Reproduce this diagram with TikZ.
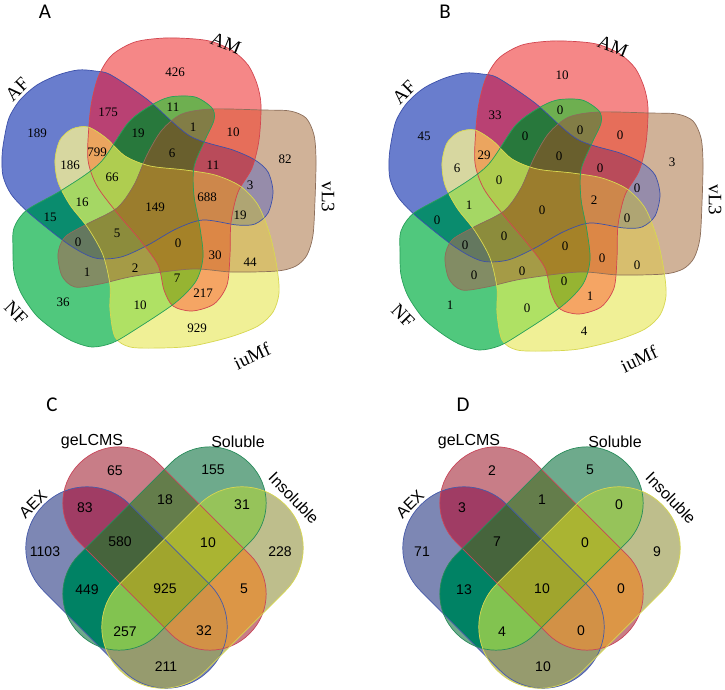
\documentclass[tikz,border=0pt]{standalone}
\usepackage{fontspec}
\newfontfamily\fserif{Liberation Serif}
\newfontfamily\fsans{Liberation Sans}
\newfontfamily\fpanel{Carlito}
\tikzset{
  n5/.style={font=\fserif\fontsize{13}{15}\selectfont, inner sep=0pt},
  l5/.style={font=\fserif\fontsize{19}{21}\selectfont, inner sep=0pt},
  n4/.style={font=\fsans\fontsize{14}{16}\selectfont, inner sep=0pt},
  l4/.style={font=\fsans\fontsize{16}{18}\selectfont, inner sep=0pt},
  plab/.style={font=\fpanel\fontsize{21}{24}\selectfont, inner sep=0pt},
  edge5/.style={line width=0.7pt},
  edge4/.style={line width=0.7pt},
}
\definecolor{eb}{RGB}{60,80,170}
\definecolor{er}{RGB}{210,70,80}
\definecolor{et}{RGB}{140,110,90}
\definecolor{ey}{RGB}{215,215,80}
\definecolor{eg}{RGB}{40,160,90}
\definecolor{eA}{RGB}{70,90,170}
\definecolor{eG}{RGB}{200,70,90}
\definecolor{eS}{RGB}{40,140,90}
\definecolor{eI}{RGB}{215,215,80}
% five-set shapes (pixel coordinates of panel A)
\def\shB{plot[smooth cycle] coordinates {(2,157) (4,140) (9,118) (20,100) (37,85) (58,75) (78,70) (95,71) (111,75) (148,100) (190,136) (233,150) (255,160) (268,172) (273,192) (268,213) (255,224) (237,225) (203,220) (176,229) (148,245) (121,257) (95,258) (68,244) (29,213) (11,194) (3,176)}}
\def\shR{plot[smooth cycle] coordinates {(99,75) (112,55) (135,42) (165,38) (195,39) (213,42) (233,51) (248,65) (257,84) (261,105) (259,140) (252,168) (238,192) (231,222) (230,255) (227,285) (214,304) (192,311) (173,306) (164,290) (158,265) (140,240) (118,214) (97,186) (88,160) (89,125) (92,100)}}
\def\shT{plot[smooth cycle] coordinates {(58,254) (65,237) (87,224) (117,208) (134,185) (147,155) (162,130) (182,114) (212,109) (262,110) (290,111) (306,118) (314,135) (316,160) (315,200) (313,235) (307,255) (296,266) (277,271) (232,272) (192,269) (135,276) (100,284) (75,287) (62,276)}}
\def\shY{plot[smooth cycle] coordinates {(60,140) (72,129) (88,127) (106,138) (125,156) (150,166) (185,170) (215,175) (240,186) (258,205) (270,235) (277,268) (279,293) (273,312) (258,326) (230,337) (192,346) (160,348) (130,347) (115,337) (110,310) (110,285) (103,255) (88,228) (70,205) (58,182) (55,160)}}
\def\shG{plot[smooth cycle] coordinates {(212,108) (214,120) (205,140) (194,167) (194,196) (200,228) (203,257) (196,281) (175,303) (133,331) (112,343) (92,347) (72,341) (54,330) (36,315) (21,293) (14,272) (13,249) (14,228) (27,210) (62,190) (100,163) (128,123) (150,106) (170,97) (195,97)}}
\newcommand\vreg[6]{\begin{scope}\ifnum#1=1 \clip \shB;\fi\ifnum#2=1 \clip \shR;\fi\ifnum#3=1 \clip \shT;\fi\ifnum#4=1 \clip \shY;\fi\ifnum#5=1 \clip \shG;\fi\definecolor{rc}{RGB}{#6}\fill[rc] (0,0) rectangle (340,362);\end{scope}}
\newcommand\fiveshapes{%
\vreg{1}{0}{0}{0}{0}{105,125,205}
\vreg{0}{1}{0}{0}{0}{245,135,135}
\vreg{0}{0}{1}{0}{0}{208,178,152}
\vreg{0}{0}{0}{1}{0}{240,240,150}
\vreg{0}{0}{0}{0}{1}{80,200,125}
\vreg{1}{1}{0}{0}{0}{185,65,115}
\vreg{1}{0}{0}{1}{0}{215,215,160}
\vreg{1}{0}{0}{0}{1}{10,140,110}
\vreg{1}{0}{1}{0}{0}{150,140,170}
\vreg{0}{1}{1}{0}{0}{230,110,90}
\vreg{0}{1}{0}{0}{1}{110,175,80}
\vreg{0}{1}{0}{1}{0}{245,165,100}
\vreg{0}{0}{1}{1}{0}{215,190,110}
\vreg{0}{0}{1}{0}{1}{130,140,100}
\vreg{0}{0}{0}{1}{1}{175,225,100}
\vreg{1}{1}{0}{1}{0}{235,165,95}
\vreg{1}{1}{0}{0}{1}{40,120,60}
\vreg{1}{0}{0}{1}{1}{165,215,100}
\vreg{1}{0}{1}{0}{1}{100,120,95}
\vreg{1}{0}{1}{1}{0}{175,165,115}
\vreg{0}{1}{1}{0}{1}{130,125,70}
\vreg{1}{1}{1}{0}{0}{185,75,90}
\vreg{0}{1}{1}{1}{0}{220,135,70}
\vreg{0}{1}{0}{1}{1}{150,180,50}
\vreg{0}{0}{1}{1}{1}{165,155,70}
\vreg{1}{1}{1}{0}{1}{105,95,45}
\vreg{1}{1}{0}{1}{1}{175,205,80}
\vreg{1}{1}{1}{1}{0}{205,135,75}
\vreg{1}{0}{1}{1}{1}{140,140,60}
\vreg{0}{1}{1}{1}{1}{165,130,40}
\vreg{1}{1}{1}{1}{1}{155,125,45}
\draw[edge5,eb] \shB;
\draw[edge5,er] \shR;
\draw[edge5,et] \shT;
\draw[edge5,ey] \shY;
\draw[edge5,eg] \shG;
}
% four-set capsules
\newcommand\stA{\clip[shift={(126.5,587.5)},rotate=-45,rounded corners=60.5pt] (-116.9,-61) rectangle (116.9,61);}
\newcommand\stG{\clip[shift={(164.5,548.5)},rotate=-45,rounded corners=55.5pt] (-120.3,-56) rectangle (120.3,56);}
\newcommand\stS{\clip[shift={(164.5,548.5)},rotate=45,rounded corners=55.5pt] (-120.3,-56) rectangle (120.3,56);}
\newcommand\stI{\clip[shift={(202.5,587.5)},rotate=45,rounded corners=60.5pt] (-116.9,-61) rectangle (116.9,61);}
\newcommand\ereg[5]{\begin{scope}\ifnum#1=1 \stA\fi\ifnum#2=1 \stG\fi\ifnum#3=1 \stS\fi\ifnum#4=1 \stI\fi\definecolor{rc}{RGB}{#5}\fill[rc] (0,400) rectangle (340,700);\end{scope}}
\newcommand\fourshapes{%
\ereg{1}{0}{0}{0}{125,135,180}
\ereg{0}{1}{0}{0}{200,125,135}
\ereg{0}{0}{1}{0}{110,170,140}
\ereg{0}{0}{0}{1}{190,190,140}
\ereg{1}{1}{0}{0}{160,60,100}
\ereg{0}{1}{1}{0}{100,125,75}
\ereg{0}{0}{1}{1}{150,195,90}
\ereg{1}{0}{1}{0}{0,130,100}
\ereg{0}{1}{0}{1}{220,150,70}
\ereg{1}{0}{0}{1}{150,155,110}
\ereg{1}{1}{1}{0}{70,100,60}
\ereg{0}{1}{1}{1}{170,180,50}
\ereg{1}{0}{1}{1}{130,195,80}
\ereg{1}{1}{0}{1}{210,145,70}
\ereg{1}{1}{1}{1}{160,165,45}
\draw[edge4,eA,shift={(126.5,587.5)},rotate=-45,rounded corners=60.5pt] (-116.9,-61) rectangle (116.9,61);
\draw[edge4,eG,shift={(164.5,548.5)},rotate=-45,rounded corners=55.5pt] (-120.3,-56) rectangle (120.3,56);
\draw[edge4,eS,shift={(164.5,548.5)},rotate=45,rounded corners=55.5pt] (-120.3,-56) rectangle (120.3,56);
\draw[edge4,eI,shift={(202.5,587.5)},rotate=45,rounded corners=60.5pt] (-116.9,-61) rectangle (116.9,61);
}
\begin{document}
\begin{tikzpicture}[x=1pt,y=-1pt]
\useasboundingbox (0,0) rectangle (725,690);
\fill[white] (0,0) rectangle (725,690);
% ---------- Panel A ----------
\fiveshapes
\node[plab] (pA) at (45,12) {A};
\node[l5,rotate=45] (aAF) at (17,89) {AF};
\node[l5,rotate=-22] (aAM) at (226,43) {AM};
\node[l5,rotate=-90] (aVL) at (328,197) {vL3};
\node[l5,rotate=-45] (aNF) at (16,313) {NF};
\node[l5,rotate=25] (aIU) at (252,356) {iuMf};
\node[n5] (a01) at (175,72) {426};
\node[n5] (a02) at (108,112) {175};
\node[n5] (a03) at (173,107) {11};
\node[n5] (a04) at (37,133) {189};
\node[n5] (a05) at (138,133) {19};
\node[n5] (a06) at (193,127) {1};
\node[n5] (a07) at (233,132) {10};
\node[n5] (a08) at (285,159) {82};
\node[n5] (a09) at (97,152) {799};
\node[n5] (a10) at (172,153) {6};
\node[n5] (a11) at (70,165) {186};
\node[n5] (a12) at (112,177) {66};
\node[n5] (a13) at (213,165) {11};
\node[n5] (a14) at (250,185) {3};
\node[n5] (a15) at (207,197) {688};
\node[n5] (a16) at (82,202) {16};
\node[n5] (a17) at (155,207) {149};
\node[n5] (a18) at (240,215) {19};
\node[n5] (a19) at (50,217) {15};
\node[n5] (a20) at (117,233) {5};
\node[n5] (a21) at (78,242) {0};
\node[n5] (a22) at (178,243) {0};
\node[n5] (a23) at (215,255) {30};
\node[n5] (a24) at (250,262) {44};
\node[n5] (a25) at (87,272) {1};
\node[n5] (a26) at (135,268) {2};
\node[n5] (a27) at (177,278) {7};
\node[n5] (a28) at (63,302) {36};
\node[n5] (a29) at (203,293) {217};
\node[n5] (a30) at (140,305) {10};
\node[n5] (a31) at (197,328) {929};
% ---------- Panel B ----------
\begin{scope}[shift={(387,3)}]
\fiveshapes
\node[plab] (pB) at (58,9) {B};
\node[l5,rotate=45] (bAF) at (17,89) {AF};
\node[l5,rotate=-22] (bAM) at (226,43) {AM};
\node[l5,rotate=-90] (bVL) at (328,197) {vL3};
\node[l5,rotate=-45] (bNF) at (16,313) {NF};
\node[l5,rotate=25] (bIU) at (252,356) {iuMf};
\node[n5] (b01) at (175,72) {10};
\node[n5] (b02) at (108,112) {33};
\node[n5] (b03) at (173,107) {0};
\node[n5] (b04) at (37,133) {45};
\node[n5] (b05) at (138,133) {0};
\node[n5] (b06) at (193,127) {0};
\node[n5] (b07) at (233,132) {0};
\node[n5] (b08) at (285,159) {3};
\node[n5] (b09) at (97,152) {29};
\node[n5] (b10) at (172,153) {0};
\node[n5] (b11) at (70,165) {6};
\node[n5] (b12) at (112,177) {0};
\node[n5] (b13) at (213,165) {0};
\node[n5] (b14) at (250,185) {0};
\node[n5] (b15) at (207,197) {2};
\node[n5] (b16) at (82,202) {1};
\node[n5] (b17) at (155,207) {0};
\node[n5] (b18) at (240,215) {0};
\node[n5] (b19) at (50,217) {0};
\node[n5] (b20) at (117,233) {0};
\node[n5] (b21) at (78,242) {0};
\node[n5] (b22) at (178,243) {0};
\node[n5] (b23) at (215,255) {0};
\node[n5] (b24) at (250,262) {0};
\node[n5] (b25) at (87,272) {0};
\node[n5] (b26) at (135,268) {0};
\node[n5] (b27) at (177,278) {0};
\node[n5] (b28) at (63,302) {1};
\node[n5] (b29) at (203,293) {1};
\node[n5] (b30) at (140,305) {0};
\node[n5] (b31) at (197,328) {4};
\end{scope}
% ---------- Panel C ----------
\fourshapes
\node[plab] (pC) at (52,405) {C};
\node[l4] (cG) at (92,442) {geLCMS};
\node[l4] (cS) at (238,442) {Soluble};
\node[l4,rotate=45] (cA) at (33,504) {AEX};
\node[l4,rotate=-46] (cI) at (294,498) {Insoluble};
\node[n4] (c01) at (115,471) {65};
\node[n4] (c02) at (213,470) {155};
\node[n4] (c03) at (85,508) {83};
\node[n4] (c04) at (165,500) {18};
\node[n4] (c05) at (242,505) {31};
\node[n4] (c06) at (120,542) {580};
\node[n4] (c07) at (208,543) {10};
\node[n4] (c08) at (45,552) {1103};
\node[n4] (c09) at (280,552) {228};
\node[n4] (c10) at (87,590) {449};
\node[n4] (c11) at (165,589) {925};
\node[n4] (c12) at (244,589) {5};
\node[n4] (c13) at (125,632) {257};
\node[n4] (c14) at (204,631) {32};
\node[n4] (c15) at (166,667) {211};
% ---------- Panel D ----------
\begin{scope}[shift={(377,0)}]
\fourshapes
\node[plab] (pD) at (86,405) {D};
\node[l4] (dG) at (92,442) {geLCMS};
\node[l4] (dS) at (238,442) {Soluble};
\node[l4,rotate=45] (dA) at (33,504) {AEX};
\node[l4,rotate=-46] (dI) at (294,498) {Insoluble};
\node[n4] (d01) at (115,471) {2};
\node[n4] (d02) at (213,470) {5};
\node[n4] (d03) at (85,508) {3};
\node[n4] (d04) at (165,500) {1};
\node[n4] (d05) at (242,505) {0};
\node[n4] (d06) at (120,542) {7};
\node[n4] (d07) at (208,543) {0};
\node[n4] (d08) at (45,552) {71};
\node[n4] (d09) at (280,552) {9};
\node[n4] (d10) at (87,590) {13};
\node[n4] (d11) at (165,589) {10};
\node[n4] (d12) at (244,589) {0};
\node[n4] (d13) at (125,632) {4};
\node[n4] (d14) at (204,631) {0};
\node[n4] (d15) at (166,667) {10};
\end{scope}
\end{tikzpicture}
\end{document}
